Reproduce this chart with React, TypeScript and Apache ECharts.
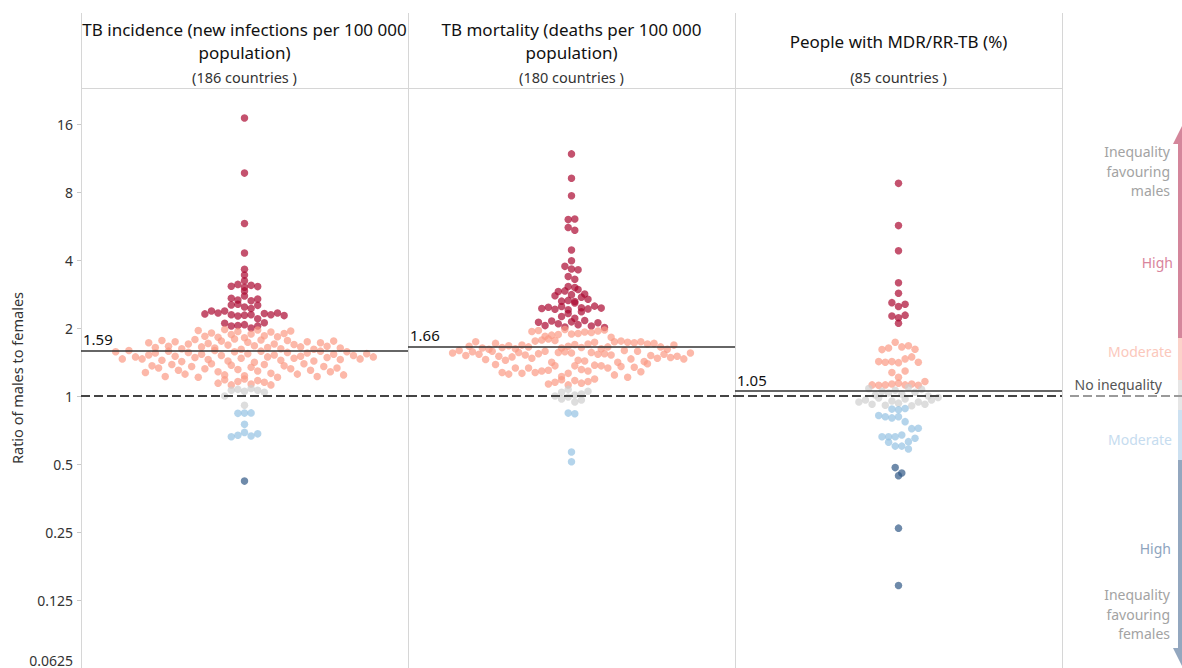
import React, { useEffect, useRef } from 'react';
import * as echarts from 'echarts';

const FONT = '"Noto Sans", "DejaVu Sans", sans-serif';

// Shared log2 ratio axis
const tickValues = [0.0625, 0.125, 0.25, 0.5, 1, 2, 4, 8, 16];
const axisMin = 0.0625;
const axisMax = 23.1;

const panelTitles = [
  ['TB incidence (new infections per 100 000', 'population)'],
  ['TB mortality (deaths per 100 000', 'population)'],
  ['People with MDR/RR-TB (%)'],
];
const countryCounts = [186, 180, 85];
const averageRatios = [1.59, 1.66, 1.05];

// Male-to-female ratios, one value per country
const incidenceRatios = [
  17.0, 9.7, 5.8, 4.3, 3.64, 3.43, 3.24,
  3.06, 3.12, 3.03, 3.09, 3.05,
  2.92,
  2.71, 2.66, 2.77, 2.64, 2.69,
  2.53, 2.55, 2.48, 2.44, 2.52,
  2.31, 2.38, 2.33, 2.38, 2.29, 2.26, 2.28, 2.29, 2.2, 2.32, 2.29, 2.33, 2.27,
  2.1, 2.04, 2.05, 2.07, 2.0, 2.04, 2.11,
  1.95, 1.84, 1.9, 1.82, 1.97, 1.87, 1.93, 1.81, 1.88, 1.96, 1.85, 1.92, 1.83, 1.89, 1.94,
  1.72, 1.64, 1.76, 1.66, 1.74, 1.62, 1.7, 1.78, 1.65, 1.71, 1.63, 1.75, 1.68, 1.79, 1.61,
  1.73, 1.67, 1.77, 1.64, 1.7, 1.62, 1.76, 1.69, 1.65, 1.74, 1.61, 1.72, 1.66, 1.75, 1.63,
  1.57, 1.46, 1.59, 1.49, 1.46, 1.52, 1.55, 1.44, 1.58, 1.5, 1.42, 1.56, 1.48, 1.53, 1.45,
  1.59, 1.51, 1.43, 1.57, 1.47, 1.54, 1.41, 1.58, 1.49, 1.52, 1.44, 1.56, 1.47, 1.5, 1.55,
  1.43, 1.58, 1.48, 1.53, 1.45, 1.57, 1.51, 1.46, 1.54, 1.49,
  1.27, 1.36, 1.33, 1.22, 1.38, 1.3, 1.25, 1.35, 1.21, 1.32, 1.39, 1.28, 1.24, 1.37, 1.31,
  1.23, 1.34, 1.29, 1.38, 1.26, 1.21, 1.36, 1.32, 1.25, 1.39, 1.3, 1.22, 1.35, 1.28, 1.33, 1.24,
  1.14, 1.18, 1.12, 1.16, 1.19, 1.13, 1.17, 1.15, 1.12,
  1.0, 1.06, 1.07, 1.05, 1.08, 1.06, 1.04, 0.91,
  0.838, 0.84, 0.842, 0.75, 0.66, 0.67, 0.69, 0.665, 0.68,
  0.42,
];

const mortalityRatios = [
  11.8, 9.2, 7.7,
  6.04, 6.08,
  5.57, 5.42,
  4.43, 3.97,
  3.75, 3.65, 3.62,
  3.38, 3.29,
  3.05, 3.02,
  2.9, 2.92, 2.81, 2.96, 2.83,
  2.78, 2.63, 2.65, 2.62, 2.74, 2.68,
  2.44, 2.47, 2.42, 2.49, 2.41, 2.58, 2.46, 2.43, 2.5, 2.45,
  2.25, 2.32, 2.21, 2.36,
  2.12, 2.05, 2.15, 2.09, 2.02, 2.13, 2.07, 2.16, 2.04, 2.11, 2.01,
  1.93, 1.95, 1.84, 1.86, 1.87, 1.97, 1.88, 1.89, 1.92, 1.91, 1.94, 1.96, 1.82,
  1.66, 1.74, 1.63, 1.61, 1.71, 1.64, 1.67, 1.62, 1.68, 1.65, 1.75, 1.77, 1.79, 1.76, 1.63, 1.66,
  1.69, 1.64, 1.7, 1.73, 1.62, 1.65, 1.74, 1.75, 1.73, 1.72, 1.74, 1.7, 1.71, 1.65, 1.61, 1.68,
  1.55, 1.59, 1.51, 1.57, 1.53, 1.45, 1.58, 1.5, 1.44, 1.49, 1.56, 1.52, 1.47, 1.54, 1.58, 1.41,
  1.56, 1.57, 1.55, 1.44, 1.43, 1.56, 1.53, 1.54, 1.52, 1.41, 1.59, 1.46, 1.58, 1.42, 1.51, 1.47,
  1.53, 1.48, 1.5, 1.46, 1.55,
  1.38, 1.27, 1.25, 1.33, 1.26, 1.33, 1.27, 1.29, 1.3, 1.36, 1.22, 1.26, 1.36, 1.31, 1.29, 1.37,
  1.36, 1.33, 1.24, 1.35, 1.21, 1.34, 1.28, 1.39,
  1.13, 1.15, 1.18, 1.12, 1.17, 1.14, 1.16, 1.19,
  1.0, 1.04, 1.07, 1.01, 1.02, 1.05, 0.97, 0.99, 0.94, 0.96,
  0.84, 0.835, 0.565, 0.512,
];

const mdrRatios = [
  8.74, 5.68, 4.4, 3.17, 2.85, 2.59, 2.49, 2.55, 2.26, 2.22, 2.28, 2.1,
  1.605, 1.63, 1.73, 1.65, 1.67, 1.61,
  1.42, 1.41, 1.42, 1.405, 1.46, 1.49, 1.41,
  1.27, 1.21, 1.29,
  1.12, 1.115, 1.12, 1.13, 1.14, 1.12, 1.13, 1.115, 1.16,
  1.08, 1.01, 1.05, 1.03, 1.06, 1.02, 1.09, 1.04, 1.07, 1.0,
  0.94, 0.96, 0.92, 0.98, 0.91, 0.95, 0.93, 0.97, 0.905, 0.94, 0.92, 0.96, 0.985,
  0.875, 0.87, 0.88,
  0.82, 0.81, 0.8, 0.81, 0.77, 0.717, 0.72,
  0.66, 0.66, 0.66, 0.672, 0.628, 0.65,
  0.624, 0.6, 0.6, 0.583,
  0.482, 0.444, 0.456, 0.26, 0.145,
];

const panelRatios = [incidenceRatios, mortalityRatios, mdrRatios];

// high (males), moderate (males), none, moderate (females), high (females)
const classColors = ['#ab0831', '#fb9a85', '#cfcfcf', '#94c2e2', '#305886'];

function inequalityClass(r: number): number {
  if (r >= 2) return 0;
  if (r >= 1.111) return 1;
  if (r > 0.9) return 2;
  if (r > 0.5) return 3;
  return 4;
}

// Binned beeswarm: dots sharing a ratio bin and class are spread side by side
function swarmPoints(values: number[]) {
  const groups = new Map<string, number[]>();
  values.forEach((v, i) => {
    const above = v >= 1;
    const u = above ? v : 1 / v;
    const key = `${above ? 'm' : 'f'}:${inequalityClass(v)}:${Math.floor(u / 0.2 + 1e-9)}`;
    const list = groups.get(key) ?? [];
    list.push(i);
    groups.set(key, list);
  });
  const offsets = new Array(values.length).fill(0);
  groups.forEach((idx) => {
    idx.forEach((di, k) => {
      offsets[di] = k - (idx.length - 1) / 2;
    });
  });
  return values.map((v, i) => [offsets[i], v, inequalityClass(v)]);
}

const PANEL_LEFT = [81, 408, 735];
const PANEL_W = 327;
const TOP = 88;
const BOTTOM = 668;

function buildOption(): echarts.EChartsOption {
  const logAxis = (i: number, show: boolean) => ({
    type: 'log' as const,
    logBase: 2,
    gridIndex: i,
    position: 'left' as const,
    min: axisMin,
    max: axisMax,
    show,
    axisLine: { show: false, onZero: false },
    splitLine: { show: false },
    axisTick: {
      show: true,
      length: 4,
      customValues: tickValues,
      lineStyle: { color: '#c8c8c8' },
    },
    axisLabel: {
      customValues: tickValues,
      fontSize: 14,
      fontFamily: FONT,
      color: '#333',
      margin: 8,
      formatter: (v: number) => {
        const s = `${+Number(v).toPrecision(6)}`;
        return Number(v) <= axisMin ? `{low|${s}}` : s;
      },
      rich: {
        low: { fontSize: 14, fontFamily: FONT, color: '#333', padding: [0, 0, 16, 0] },
      },
    },
  });

  const grids = [
    ...PANEL_LEFT.map((l) => ({ left: l, top: TOP, width: PANEL_W, height: BOTTOM - TOP })),
    { left: 1070, top: TOP, width: 112, height: BOTTOM - TOP },
  ];

  const xAxes = grids.map((_, i) => ({
    type: 'value' as const,
    gridIndex: i,
    min: i < 3 ? -24.75 : 0,
    max: i < 3 ? 24.75 : 1,
    show: false,
  }));

  const yAxes = grids.map((_, i) => logAxis(i, i === 0));

  const series: any[] = panelRatios.map((vals, i) => ({
    type: 'scatter',
    xAxisIndex: i,
    yAxisIndex: i,
    data: swarmPoints(vals),
    symbol: 'circle',
    symbolSize: 7.5,
    silent: true,
    itemStyle: {
      color: (p: any) => classColors[p.data[2]],
      opacity: 0.7,
    },
    markLine: {
      silent: true,
      symbol: 'none',
      data: [
        {
          yAxis: averageRatios[i],
          lineStyle: { color: '#333', width: 1.6, type: 'solid' },
          label: {
            show: true,
            position: 'insideStartTop',
            formatter: String(averageRatios[i]),
            color: '#111',
            fontSize: 15,
            fontFamily: FONT,
            distance: [2, 4],
          },
        },
        {
          yAxis: 1,
          lineStyle: { color: '#444', width: 2, type: [9, 4] },
          label: { show: false },
        },
      ],
    },
  }));

  series.push({
    type: 'line',
    xAxisIndex: 3,
    yAxisIndex: 3,
    data: [],
    markLine: {
      silent: true,
      symbol: 'none',
      data: [{ yAxis: 1, lineStyle: { color: '#9a9a9a', width: 2, type: [9, 4] }, label: { show: false } }],
    },
  });

  const border = '#d6d6d6';
  const graphic: any[] = [];
  [81, 408, 735, 1062].forEach((x) => {
    graphic.push({
      type: 'line',
      shape: { x1: x + 0.5, y1: 13, x2: x + 0.5, y2: BOTTOM },
      style: { stroke: border, lineWidth: 1 },
      silent: true,
    });
  });
  graphic.push({
    type: 'line',
    shape: { x1: 81, y1: TOP + 0.5, x2: 1062, y2: TOP + 0.5 },
    style: { stroke: border, lineWidth: 1 },
    silent: true,
  });

  PANEL_LEFT.forEach((l, i) => {
    const cx = l + PANEL_W / 2;
    const lines = panelTitles[i];
    if (lines.length === 2) {
      lines.forEach((t, k) => {
        graphic.push({
          type: 'text',
          x: cx,
          y: 29 + k * 23,
          style: { text: t, fill: '#111', font: `17px ${FONT}`, align: 'center', verticalAlign: 'middle' },
        });
      });
    } else {
      graphic.push({
        type: 'text',
        x: cx,
        y: 41,
        style: { text: lines[0], fill: '#111', font: `17px ${FONT}`, align: 'center', verticalAlign: 'middle' },
      });
    }
    graphic.push({
      type: 'text',
      x: cx,
      y: 77,
      style: {
        text: `(${countryCounts[i]} countries )`,
        fill: '#333',
        font: `14.5px ${FONT}`,
        align: 'center',
        verticalAlign: 'middle',
      },
    });
  });

  graphic.push({
    type: 'text',
    x: 17,
    y: 378,
    rotation: Math.PI / 2,
    style: {
      text: 'Ratio of males to females',
      fill: '#333',
      font: `14.5px ${FONT}`,
      align: 'center',
      verticalAlign: 'middle',
    },
  });

  // Direction arrow on the right edge
  const ax = 1178;
  const shaft = [
    { y0: 143, y1: 338, c: '#d4869b' },
    { y0: 338, y1: 380, c: '#fcd3ca' },
    { y0: 380, y1: 410, c: '#e6e6e6' },
    { y0: 410, y1: 460, c: '#cde1f1' },
    { y0: 460, y1: 649, c: '#93a7bf' },
  ];
  shaft.forEach((s) => {
    graphic.push({
      type: 'rect',
      shape: { x: ax, y: s.y0, width: 8, height: s.y1 - s.y0 },
      style: { fill: s.c },
      silent: true,
    });
  });
  graphic.push({
    type: 'polygon',
    shape: { points: [[1173, 144], [1182, 126], [1191, 144]] },
    style: { fill: '#d4869b' },
    silent: true,
  });
  graphic.push({
    type: 'polygon',
    shape: { points: [[1173, 648], [1182, 666], [1191, 648]] },
    style: { fill: '#93a7bf' },
    silent: true,
  });

  const legendTexts = [
    { t: 'Inequality\nfavouring\nmales', y: 171, c: '#a3a3a3', r: 1170 },
    { t: 'High', y: 262, c: '#d9849c', r: 1173 },
    { t: 'Moderate', y: 351, c: '#fbc8bc', r: 1172 },
    { t: 'No inequality', y: 384, c: '#555555', r: 1162 },
    { t: 'Moderate', y: 439, c: '#c6dcef', r: 1172 },
    { t: 'High', y: 548, c: '#8ea4be', r: 1171 },
    { t: 'Inequality\nfavouring\nfemales', y: 614, c: '#a3a3a3', r: 1170 },
  ];
  legendTexts.forEach((d) => {
    graphic.push({
      type: 'text',
      x: d.r,
      y: d.y,
      style: {
        text: d.t,
        fill: d.c,
        font: `14px ${FONT}`,
        lineHeight: 19.5,
        align: 'right',
        verticalAlign: 'middle',
      },
    });
  });

  return {
    animation: false,
    backgroundColor: '#ffffff',
    grid: grids,
    xAxis: xAxes,
    yAxis: yAxes,
    series,
    graphic,
  } as any;
}

export default function App() {
  const ref = useRef<HTMLDivElement>(null);
  useEffect(() => {
    if (!ref.current) return;
    const chart = echarts.init(ref.current, null, { renderer: 'svg' });
    chart.setOption(buildOption());
    return () => chart.dispose();
  }, []);
  return (
    <div
      ref={ref}
      style={{ position: 'fixed', left: 0, top: 0, width: 1182, height: 668, background: '#fff' }}
    />
  );
}
